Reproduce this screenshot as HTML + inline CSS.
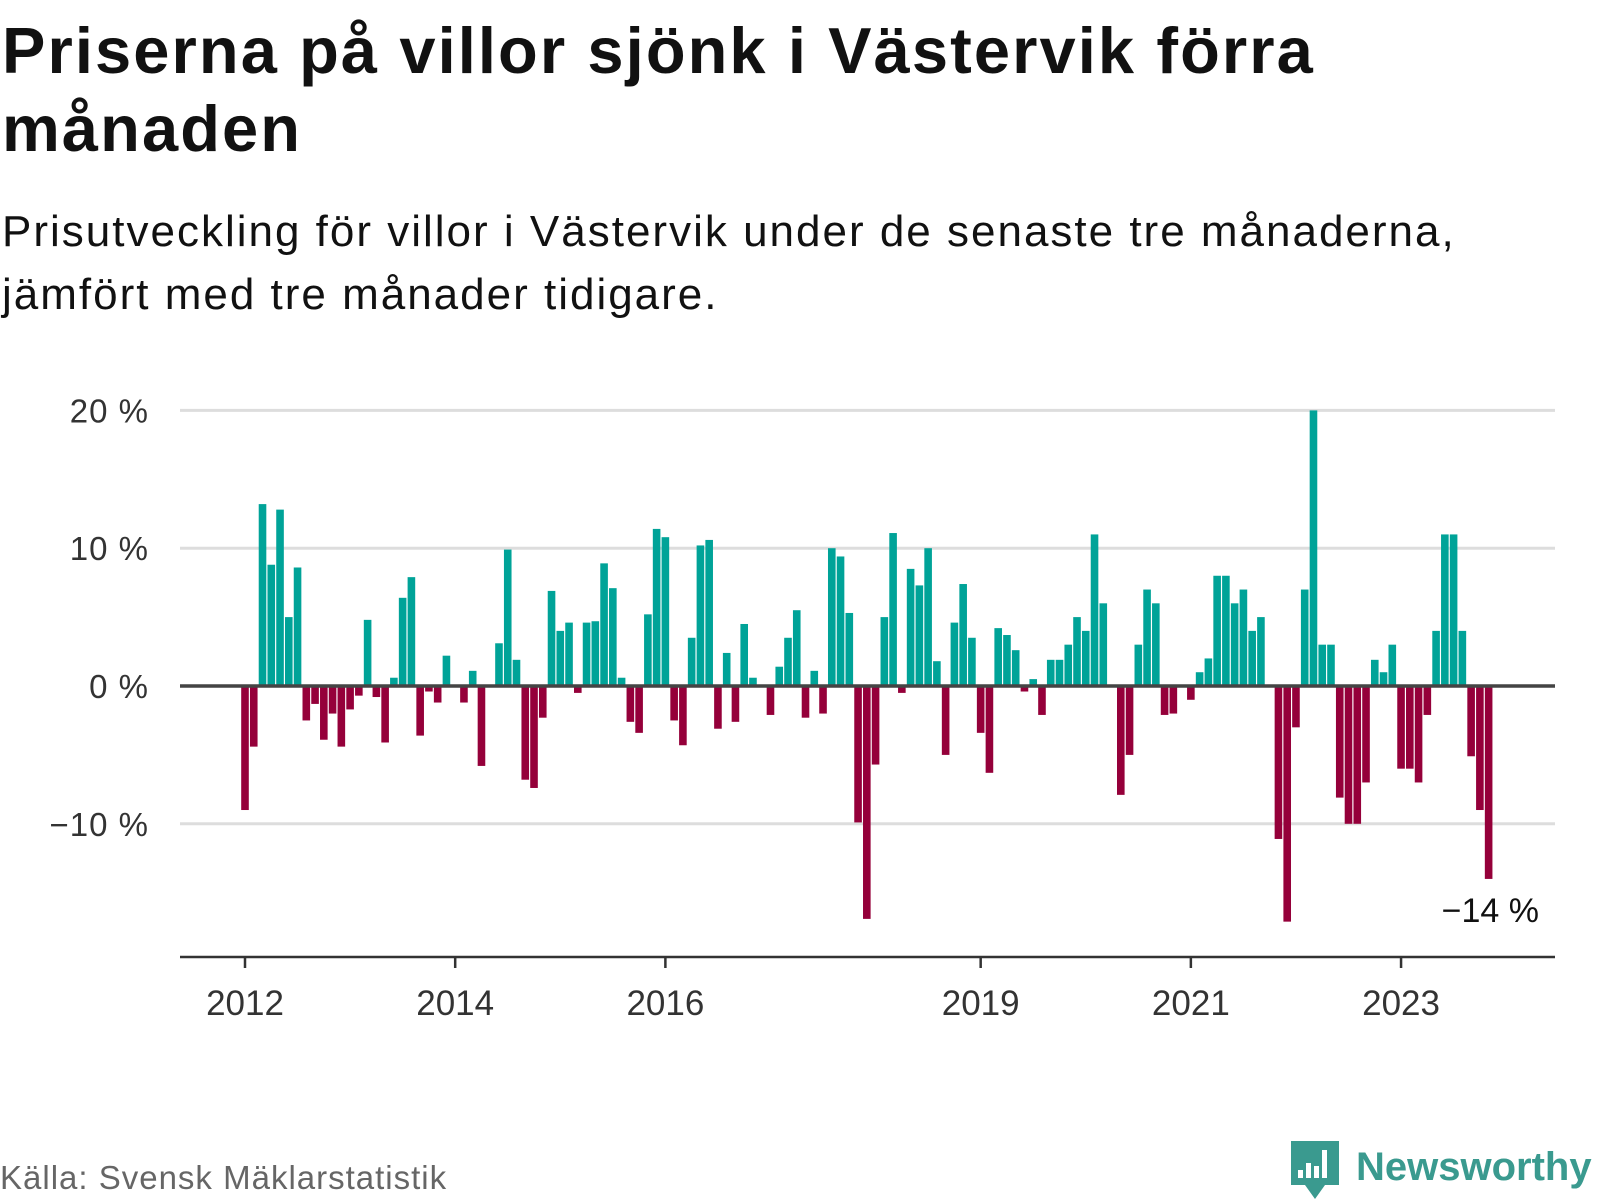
<!DOCTYPE html>
<html><head><meta charset="utf-8">
<style>
html,body{margin:0;padding:0;background:#fff;}
body{width:1600px;height:1200px;position:relative;overflow:hidden;font-family:"Liberation Sans",sans-serif;}
#title{position:absolute;left:2px;top:12px;margin:0;font-size:65px;line-height:78px;font-weight:bold;color:#111;width:1560px;letter-spacing:2.1px;}
#subtitle{position:absolute;left:2px;top:200px;margin:0;font-size:44px;line-height:63px;color:#111;width:1580px;letter-spacing:2px;}
</style></head>
<body>
<h1 id="title">Priserna på villor sjönk i Västervik förra<br>månaden</h1>
<p id="subtitle">Prisutveckling för villor i Västervik under de senaste tre månaderna,<br>jämfört med tre månader tidigare.</p>
<svg id="chart" width="1600" height="1200" style="position:absolute;left:0;top:0" xmlns="http://www.w3.org/2000/svg">
<g id="grid"></g><g id="bars"></g><g id="axis"></g>
<text x="0" y="1189" font-size="33" letter-spacing="1" fill="#666" font-family="Liberation Sans, sans-serif">Källa: Svensk Mäklarstatistik</text>
<g>
<path d="M1291 1141 h48 v44 h-14 l-10 14 l-10 -14 h-14 z" fill="#3a9a8f"/>
<rect x="1298" y="1170" width="5" height="8" fill="#fff"/><rect x="1306" y="1163" width="5" height="15" fill="#fff"/><rect x="1314" y="1166" width="5" height="12" fill="#fff"/><rect x="1322" y="1150" width="5" height="28" fill="#fff"/>
<text x="1356" y="1180" font-size="40" font-weight="bold" fill="#3a9a8f" font-family="Liberation Sans, sans-serif">Newsworthy</text>
</g>
</svg>
<script>
const startYear = 2012;
const values = [-9.0,-4.4,13.2,8.8,12.8,5.0,8.6,-2.5,-1.3,-3.9,-2.0,-4.4,
-1.7,-0.7,4.8,-0.8,-4.1,0.6,6.4,7.9,-3.6,-0.4,-1.2,2.2,
0,-1.2,1.1,-5.8,0,3.1,9.9,1.9,-6.8,-7.4,-2.3,6.9,
4.0,4.6,-0.5,4.6,4.7,8.9,7.1,0.6,-2.6,-3.4,5.2,11.4,
10.8,-2.5,-4.3,3.5,10.2,10.6,-3.1,2.4,-2.6,4.5,0.6,0,
-2.1,1.4,3.5,5.5,-2.3,1.1,-2.0,10.0,9.4,5.3,-9.9,-16.9,
-5.7,5.0,11.1,-0.5,8.5,7.3,10.0,1.8,-5.0,4.6,7.4,3.5,
-3.4,-6.3,4.2,3.7,2.6,-0.4,0.5,-2.1,1.9,1.9,3.0,5.0,
4.0,11.0,6.0,0,-7.9,-5.0,3.0,7.0,6.0,-2.1,-2.0,0,
-1.0,1.0,2.0,8.0,8.0,6.0,7.0,4.0,5.0,0,-11.1,-17.1,
-3.0,7.0,20.0,3.0,3.0,-8.1,-10.0,-10.0,-7.0,1.9,1.0,3.0,
-6.0,-6.0,-7.0,-2.1,4.0,11.0,11.0,4.0,-5.1,-9.0,-14.0];
const yTicks = [20,10,0,-10];
const yTickLabels = ["20 %","10 %","0 %","\u221210 %"];
const xTickYears = [2012,2014,2016,2019,2021,2023];
const lastLabel = "\u221214 %";

const NS="http://www.w3.org/2000/svg";
const x = m => 245 + m*8.758;
const y = v => 686 - v*13.78;
const grid=document.getElementById('grid'), bars=document.getElementById('bars'), axis=document.getElementById('axis');
function mk(tag, attrs, parent){const e=document.createElementNS(NS,tag);for(const k in attrs)e.setAttribute(k,attrs[k]);parent.appendChild(e);return e;}
yTicks.forEach((t,i)=>{
  if(t!==0){const l=mk('line',{x1:180,x2:1555,y1:y(t),y2:y(t),stroke:'#ddd','stroke-width':3},grid);
  
  }
  const tx=mk('text',{x:149,y:y(t)+12,'text-anchor':'end','font-size':33,'letter-spacing':1,fill:'#333','font-family':'Liberation Sans, sans-serif'},axis);
  tx.textContent=yTickLabels[i];
  
  
});
values.forEach((v,i)=>{
  if(v===0)return;
  const r=mk('rect',{x:x(i)-3.8,width:7.6,y:Math.min(y(v),y(0)),height:Math.abs(y(v)-y(0)),fill:v>0?'#00a398':'#95003a'},bars);
  
  
});
const zl=mk('line',{x1:180,x2:1555,y1:y(0),y2:y(0),stroke:'#444','stroke-width':3.5},axis);


const xl=mk('line',{x1:180,x2:1555,y1:957,y2:957,stroke:'#333','stroke-width':2.5},axis);


xTickYears.forEach(yr=>{
  const px=x((yr-startYear)*12);
  const tk=mk('line',{x1:px,x2:px,y1:957,y2:968,stroke:'#333','stroke-width':2.5},axis);
  
  
  const t=mk('text',{x:px,y:1015,'text-anchor':'middle','font-size':35,fill:'#333','font-family':'Liberation Sans, sans-serif'},axis);
  t.textContent=yr;
  
  
});
const li=values.length-1;
const lab=mk('text',{x:1539,y:y(values[li])+43,'text-anchor':'end','font-size':34,fill:'#111','font-family':'Liberation Sans, sans-serif'},axis);
lab.textContent=lastLabel;


</script>
</body></html>
